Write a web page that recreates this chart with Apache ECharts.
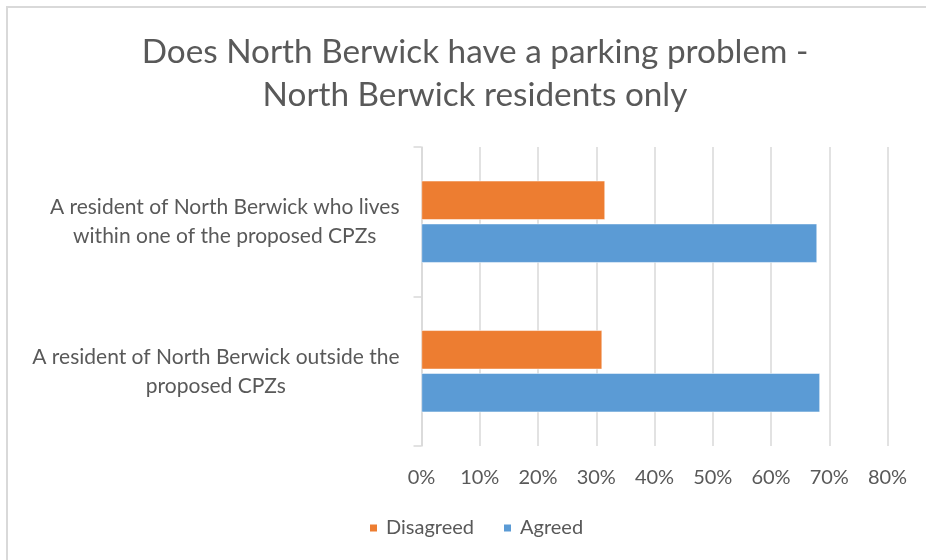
<!DOCTYPE html>
<html>
<head>
<meta charset="utf-8">
<script src="https://cdn.jsdelivr.net/npm/echarts@6/dist/echarts.min.js"></script>
<style>
  html, body { margin: 0; padding: 0; background: #fff; }
  #chart { width: 926px; height: 560px; }
</style>
</head>
<body>
<div id="chart"></div>
<script>
var categories = [
  'A resident of North Berwick who lives\nwithin one of the proposed CPZs',
  'A resident of North Berwick outside the\nproposed CPZs'
];
var disagreed = [31.5, 31.0];
var agreed = [67.9, 68.4];
var xTicks = [0, 10, 20, 30, 40, 50, 60, 70, 80];

var textColor = '#595959';
var gridColor = '#d9d9d9';
var fontFamily = 'Lato, "Open Sans", sans-serif';

var chart = echarts.init(document.getElementById('chart'));
chart.setOption({
  backgroundColor: '#fff',
  animation: false,
  textStyle: { fontFamily: fontFamily },
  title: {
    text: 'Does North Berwick have a parking problem -\nNorth Berwick residents only',
    left: 470,
    textAlign: 'center',
    top: 26,
    textStyle: {
      fontSize: 33.3,
      fontWeight: 'normal',
      color: textColor,
      lineHeight: 43,
      fontFamily: fontFamily
    }
  },
  legend: {
    top: 513,
    left: 363,
    itemWidth: 9,
    itemHeight: 9,
    itemGap: 28,
    icon: 'rect',
    textStyle: { fontSize: 20, color: textColor, padding: [0, 0, 0, 3] },
    data: ['Disagreed', 'Agreed']
  },
  graphic: [{
    type: 'polyline',
    shape: { points: [[7, 580], [7, 7], [940, 7]] },
    style: { stroke: gridColor, lineWidth: 2, fill: null }
  }],
  grid: { left: 421.5, right: 38.5, top: 147, bottom: 114, containLabel: false },
  xAxis: {
    type: 'value',
    min: 0,
    max: 80,
    interval: 10,
    axisLine: { show: false },
    axisTick: { show: false },
    splitLine: { lineStyle: { color: gridColor, width: 1.5 } },
    axisLabel: {
      color: textColor,
      fontSize: 20,
      margin: 22,
      formatter: function (v) { return xTicks.indexOf(v) >= 0 ? v + '%' : ''; }
    }
  },
  yAxis: {
    type: 'category',
    inverse: true,
    data: categories,
    axisLine: { show: true, lineStyle: { color: gridColor, width: 1.5 } },
    axisTick: { show: true, length: 8, lineStyle: { color: gridColor, width: 1.5 } },
    axisLabel: {
      color: textColor,
      fontSize: 21,
      lineHeight: 29,
      align: 'right',
      margin: 22,
      formatter: function (v) {
        return v.split('\n').map(function (s) { return '{c|' + s + '}'; }).join('\n');
      },
      rich: {
        c: { align: 'center', fontSize: 21, lineHeight: 29, color: textColor, fontFamily: fontFamily }
      }
    }
  },
  series: [{
    name: 'Disagreed',
    type: 'bar',
    data: disagreed,
    barWidth: 39,
    barGap: '10%',
    itemStyle: { color: '#ED7D31', borderColor: '#fff', borderWidth: 0.5 }
  }, {
    name: 'Agreed',
    type: 'bar',
    data: agreed,
    barWidth: 39,
    barGap: '10%',
    itemStyle: { color: '#5B9BD5', borderColor: '#fff', borderWidth: 0.5 }
  }]
});
</script>
</body>
</html>
